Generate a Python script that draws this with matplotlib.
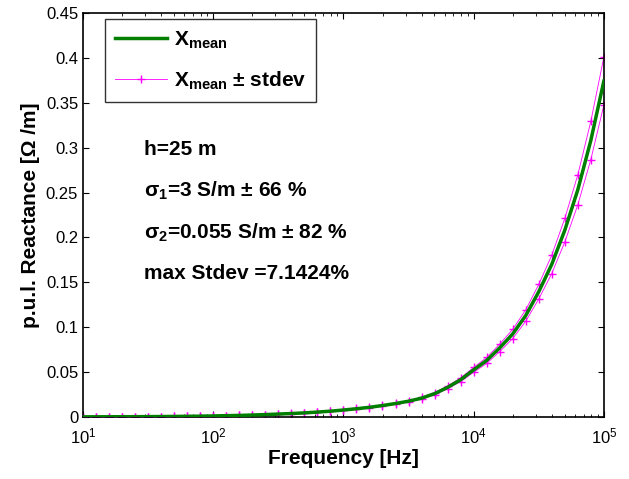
import numpy as np
import matplotlib
matplotlib.use('Agg')
from matplotlib import pyplot as plt
from matplotlib.ticker import LogLocator, NullFormatter

plt.rcParams['font.family'] = ['Liberation Sans', 'DejaVu Sans']
plt.rcParams['mathtext.fontset'] = 'custom'
plt.rcParams['mathtext.rm'] = 'Liberation Sans:bold'
plt.rcParams['mathtext.bf'] = 'Liberation Sans:bold'
plt.rcParams['mathtext.it'] = 'Liberation Sans:bold'

# frequency points, 10 per decade from 10 Hz to 100 kHz
freq_exp = [1.0, 1.1, 1.2, 1.3, 1.4, 1.5, 1.6, 1.7, 1.8, 1.9,
            2.0, 2.1, 2.2, 2.3, 2.4, 2.5, 2.6, 2.7, 2.8, 2.9,
            3.0, 3.1, 3.2, 3.3, 3.4, 3.5, 3.6, 3.7, 3.8, 3.9,
            4.0, 4.1, 4.2, 4.3, 4.4, 4.5, 4.6, 4.7, 4.8, 4.9, 5.0]
# mean reactance [ohm/m]
x_mean = [0.0002, 0.00023, 0.00027, 0.00032, 0.00038, 0.00045, 0.00054, 0.00065, 0.00079, 0.00097,
          0.0012, 0.0015, 0.0018, 0.0022, 0.0027, 0.0033, 0.0039, 0.0046, 0.0055, 0.0065,
          0.0078, 0.0092, 0.0108, 0.0128, 0.0150, 0.0176, 0.0210, 0.0260, 0.0330, 0.0415,
          0.0525, 0.0630, 0.0770, 0.0925, 0.1130, 0.1395, 0.1700, 0.2080, 0.2530, 0.3080, 0.3740]
# relative stdev [%]
stdev_pct = [1.5, 1.5, 1.6, 1.6, 1.7, 1.8, 1.9, 2.0, 2.1, 2.2,
             2.3, 2.4, 2.5, 2.6, 2.7, 2.8, 2.9, 3.0, 3.1, 3.3,
             3.5, 3.6, 3.7, 3.8, 4.0, 4.2, 4.4, 4.6, 4.8, 5.0,
             5.2, 5.3, 5.4, 5.5, 5.6, 5.8, 6.0, 6.3, 6.6, 6.9, 7.14]

f = 10 ** np.array(freq_exp)
xm = np.array(x_mean)
sd = xm * np.array(stdev_pct) / 100

fig = plt.figure(figsize=(6.29, 4.79), dpi=100)
ax = fig.add_axes([0.132, 0.1294, 0.828, 0.8436])

ax.semilogx(f, xm, color='#007f00', lw=2.5, label=r'$\mathregular{X_{mean}}$', zorder=3)
ax.semilogx(f, xm + sd, color='magenta', lw=0.6, marker='+', ms=6, mew=1,
            label=r'$\mathregular{X_{mean}}$ ± stdev', zorder=2)
ax.semilogx(f, xm - sd, color='magenta', lw=0.6, marker='+', ms=6, mew=1, zorder=2)

ax.set_xlim(10, 1e5)
ax.set_ylim(0, 0.45)
ax.set_yticks(np.arange(0, 0.451, 0.05))
ax.set_yticklabels(['0', '0.05', '0.1', '0.15', '0.2', '0.25', '0.3', '0.35', '0.4', '0.45'])
ax.xaxis.set_minor_locator(LogLocator(base=10, subs=np.arange(2, 10)))
ax.xaxis.set_minor_formatter(NullFormatter())
ax.tick_params(which='both', direction='in', top=True, right=True, labelsize=12)
ax.tick_params(axis='x', which='major', pad=7)
ax.tick_params(which='major', length=4)
ax.tick_params(which='minor', length=2)
for s in ax.spines.values():
    s.set_linewidth(1.2)

ax.set_xlabel('Frequency [Hz]', fontsize=15, fontweight='bold', labelpad=2)
ax.set_ylabel('p.u.l. Reactance [Ω /m]', fontsize=15, fontweight='bold', labelpad=4)

ax.text(0.118, 0.661, 'h=25 m', transform=ax.transAxes, fontsize=15, fontweight='bold', va='center')
ax.text(0.118, 0.560, r'$\mathregular{\sigma_1}$=3 S/m ± 66 %', transform=ax.transAxes,
        fontsize=15, fontweight='bold', va='center')
ax.text(0.118, 0.456, r'$\mathregular{\sigma_2}$=0.055 S/m ± 82 %', transform=ax.transAxes,
        fontsize=15, fontweight='bold', va='center')
ax.text(0.118, 0.355, 'max Stdev =7.1424%', transform=ax.transAxes, fontsize=15,
        fontweight='bold', va='center')

leg = ax.legend(loc='upper left', bbox_to_anchor=(0.042, 0.985),
                prop={'weight': 'bold', 'size': 15}, fancybox=False, edgecolor='black',
                handlelength=2.5, borderpad=0.5, labelspacing=0.9, handletextpad=0.3,
                borderaxespad=0)
leg.get_frame().set_linewidth(1.0)

fig.savefig('out.png', dpi=100)
